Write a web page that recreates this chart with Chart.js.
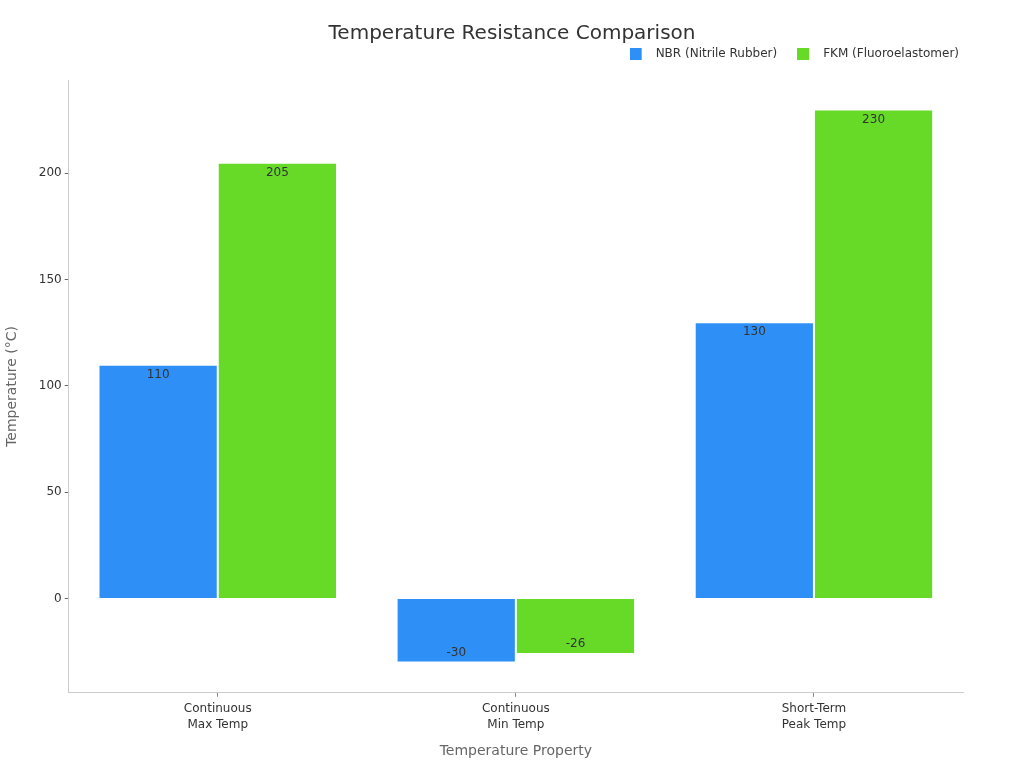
<!DOCTYPE html>
<html>
<head>
<meta charset="utf-8">
<script src="https://cdn.jsdelivr.net/npm/chart.js@4.4.0/dist/chart.umd.min.js"></script>
<style>
html,body{margin:0;padding:0;background:#fff;}
#wrap{width:1024px;height:768px;}
</style>
</head>
<body>
<div id="wrap"><canvas id="c" width="1024" height="768"></canvas></div>
<script>
const categories = [["Continuous","Max Temp"],["Continuous","Min Temp"],["Short-Term","Peak Temp"]];
const nbrValues = [110, -30, 130];
const fkmValues = [205, -26, 230];
const yTicks = [0, 50, 100, 150, 200];
const seriesNames = ["NBR (Nitrile Rubber)", "FKM (Fluoroelastomer)"];
const seriesColors = ["#2e90f6", "#66da26"];
const chartTitle = "Temperature Resistance Comparison";

function legendSwatch(color) {
  const cv = document.createElement('canvas');
  cv.width = 20; cv.height = 12;
  const g = cv.getContext('2d');
  g.fillStyle = color;
  g.fillRect(0, 0, 12, 12);
  return cv;
}
const swatches = seriesColors.map(legendSwatch);

const labelPlugin = {
  id: 'valueLabels',
  afterDatasetsDraw(chart) {
    const ctx = chart.ctx;
    ctx.save();
    ctx.font = '12px "DejaVu Sans"';
    ctx.fillStyle = '#333';
    ctx.textAlign = 'center';
    ctx.textBaseline = 'middle';
    chart.data.datasets.forEach((ds, i) => {
      chart.getDatasetMeta(i).data.forEach((bar, j) => {
        const v = ds.data[j];
        const y = v >= 0 ? bar.y + 10 : bar.y - 10;
        ctx.fillText(String(v), bar.x, y);
      });
    });
    ctx.restore();
  }
};

const titlePlugin = {
  id: 'centerTitle',
  afterDraw(chart) {
    const ctx = chart.ctx;
    ctx.save();
    ctx.font = '20px "DejaVu Sans"';
    ctx.fillStyle = '#333';
    ctx.textAlign = 'center';
    ctx.textBaseline = 'middle';
    ctx.fillText(chartTitle, chart.width / 2, 34);
    ctx.restore();
  }
};

const legendAdjust = {
  id: 'legendAdjust',
  beforeInit(chart) {
    const lg = chart.legend;
    const fit = lg.fit;
    lg.fit = function () { fit.call(this); this.height += 10; };
  },
  afterLayout(chart) {
    chart.legend.left += 16;
    chart.legend.right += 16;
  }
};

new Chart(document.getElementById('c'), {
  type: 'bar',
  data: {
    labels: categories,
    datasets: [
      { label: seriesNames[0], data: nbrValues, backgroundColor: seriesColors[0], borderColor: 'rgba(255,255,255,0.5)', borderWidth: 1 },
      { label: seriesNames[1], data: fkmValues, backgroundColor: seriesColors[1], borderColor: 'rgba(255,255,255,0.5)', borderWidth: 1 }
    ]
  },
  options: {
    responsive: false,
    animation: false,
    devicePixelRatio: 1,
    layout: { padding: { left: 0, right: 61, top: 28, bottom: 4 } },
    datasets: { bar: { categoryPercentage: 0.8, barPercentage: 1.0 } },
    plugins: {
      title: { display: false },
      legend: {
        position: 'top',
        align: 'end',
        labels: {
          color: '#333',
          font: { family: 'DejaVu Sans', size: 12 },
          usePointStyle: true,
          pointStyleWidth: 20,
          boxHeight: 12,
          padding: 20,
          generateLabels(chart) {
            const items = Chart.defaults.plugins.legend.labels.generateLabels(chart);
            items.forEach((it, i) => { it.pointStyle = swatches[i]; });
            return items;
          }
        }
      },
      tooltip: { enabled: false }
    },
    scales: {
      x: {
        grid: { display: true, drawOnChartArea: false, drawTicks: true, tickLength: 4, offset: false, color: '#888' },
        border: { color: '#ccc' },
        ticks: { color: '#333', padding: 4, font: { family: 'DejaVu Sans', size: 12, lineHeight: 1.35 } },
        title: { display: true, text: 'Temperature Property', color: '#666', font: { family: 'DejaVu Sans', size: 14 }, padding: { top: 6 } }
      },
      y: {
        min: -44.3,
        max: 243.9,
        afterBuildTicks: (scale) => { scale.ticks = yTicks.map(v => ({ value: v })); },
        grid: { display: true, drawOnChartArea: false, drawTicks: true, tickLength: 4, color: '#666' },
        border: { color: '#ccc' },
        ticks: { color: '#333', padding: 3, font: { family: 'DejaVu Sans', size: 12 } },
        title: { display: true, text: 'Temperature (°C)', color: '#666', font: { family: 'DejaVu Sans', size: 14 }, padding: { bottom: 15 } }
      }
    }
  },
  plugins: [labelPlugin, titlePlugin, legendAdjust]
});
</script>
</body>
</html>
